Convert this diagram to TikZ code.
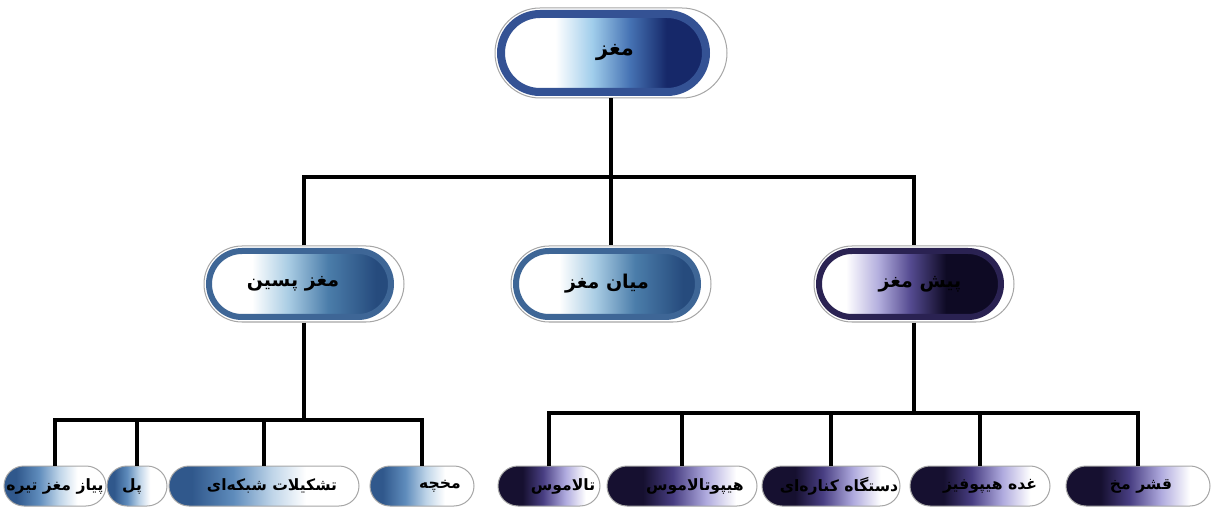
\documentclass[tikz,border=0pt]{standalone}
\usepackage{fontspec}
\newfontfamily\fa[Script=Arabic]{DejaVu Sans}
\TeXXeTstate=1
\newcommand\rtl[1]{\beginR#1\endR}

% palette: top node (blue), level-two blue nodes, forebrain (indigo), bottom rows
\definecolor{topring}{RGB}{52,82,148}
\definecolor{topl}{RGB}{160,205,235}
\definecolor{topm}{RGB}{70,115,180}
\definecolor{topd}{RGB}{22,40,105}
\definecolor{bluring}{RGB}{62,102,150}
\definecolor{blul}{RGB}{170,205,228}
\definecolor{blum}{RGB}{75,125,170}
\definecolor{blud}{RGB}{38,75,125}
\definecolor{indring}{RGB}{42,34,82}
\definecolor{indl}{RGB}{180,175,222}
\definecolor{indm}{RGB}{85,75,145}
\definecolor{indd}{RGB}{14,10,36}
\definecolor{bbd}{RGB}{48,88,140}
\definecolor{bbm}{RGB}{95,140,188}
\definecolor{bbl}{RGB}{190,212,232}
\definecolor{ibd}{RGB}{22,16,48}
\definecolor{ibm}{RGB}{72,62,130}
\definecolor{ibl}{RGB}{175,170,222}

% horizontal fades, light on the left / dark on the right (ring pills)
\pgfdeclarehorizontalshading{topfill}{100bp}{color(0bp)=(white); color(38bp)=(white); color(46bp)=(topl); color(54bp)=(topm); color(62bp)=(topd); color(100bp)=(topd)}
\pgfdeclarehorizontalshading{blufill}{100bp}{color(0bp)=(white); color(37bp)=(white); color(46bp)=(blul); color(56bp)=(blum); color(68bp)=(blud); color(100bp)=(blud)}
\pgfdeclarehorizontalshading{indfill}{100bp}{color(0bp)=(white); color(33bp)=(white); color(41bp)=(indl); color(49bp)=(indm); color(58bp)=(indd); color(100bp)=(indd)}
% dark on the left / white on the right (leaf pills)
\pgfdeclarehorizontalshading{btmblue}{100bp}{color(0bp)=(bbd); color(31bp)=(bbd); color(42bp)=(bbm); color(52bp)=(bbl); color(61bp)=(white); color(100bp)=(white)}
\pgfdeclarehorizontalshading{btmind}{100bp}{color(0bp)=(ibd); color(37bp)=(ibd); color(47bp)=(ibm); color(58bp)=(ibl); color(68bp)=(white); color(100bp)=(white)}

\tikzset{
  link/.style={draw=black, line width=1.7pt},
  pill/.style={rectangle, inner sep=0pt, fill=white, draw=black!35, line width=0.5pt, text=black},
  toppill/.style={pill, minimum width=116pt, minimum height=45pt, rounded corners=22.5pt,
    font=\fa\bfseries\fontsize{10.5}{13}\selectfont,
    path picture={\path[draw=topring, line width=4pt, shading=topfill, rounded corners=19.5pt]
      ([xshift=3pt,yshift=-3pt]path picture bounding box.north west) rectangle
      ([xshift=-10.5pt,yshift=3pt]path picture bounding box.south east);}},
  midpill/.style 2 args={pill, minimum width=100pt, minimum height=38pt, rounded corners=19pt,
    font=\fa\bfseries\fontsize{9.5}{12}\selectfont,
    path picture={\path[draw=#1, line width=3pt, shading=#2, rounded corners=16.5pt]
      ([xshift=2.5pt,yshift=-2.5pt]path picture bounding box.north west) rectangle
      ([xshift=-6.5pt,yshift=2.5pt]path picture bounding box.south east);}},
  leaf/.style 2 args={pill, minimum width=#1, minimum height=20pt, rounded corners=10pt,
    shading=#2, font=\fa\bfseries\fontsize{7.8}{10}\selectfont},
}

\begin{document}
\begin{tikzpicture}[x=0.5pt, y=-0.5pt]
\useasboundingbox (0,0) rectangle (1212,508);

% root and second level
\node[toppill] (top) at (611,53) {\kern4pt\rtl{مغز}};
\node[midpill={bluring}{blufill}] (hb) at (304,284) {\rtl{مغز پسین}\kern11pt};
\node[midpill={bluring}{blufill}] (mb) at (611,284) {\rtl{میان مغز}\kern4pt};
\node[midpill={indring}{indfill}] (fb) at (914,284) {\kern6pt\rtl{پیش مغز}};

% hindbrain parts
\node[leaf={51pt}{btmblue}] (c1) at (55,486) {\rtl{پیاز مغز تیره}};
\node[leaf={30pt}{btmblue}] (c2) at (137,486) {\rtl{پل}\kern5pt};
\node[leaf={95pt}{btmblue}] (c3) at (264,486) {\kern8pt\rtl{تشکیلات شبکه‌ای}};
\node[leaf={52pt}{btmblue}] (c4) at (422,486) {\kern18pt\rtl{مخچه}};

% forebrain parts
\node[leaf={51pt}{btmind}] (d1) at (549,486) {\kern14pt\rtl{تالاموس}};
\node[leaf={75pt}{btmind}] (d2) at (682,486) {\kern13pt\rtl{هیپوتالاموس}};
\node[leaf={69pt}{btmind}] (d3) at (831,486) {\kern8pt\rtl{دستگاه کناره‌ای}};
\node[leaf={70pt}{btmind}] (d4) at (980,486) {\kern10pt\rtl{غده هیپوفیز}};
\node[leaf={72pt}{btmind}] (d5) at (1138,486) {\kern3pt\rtl{قشر مخ}};

% junctions of the tree bars
\coordinate (jt) at (611,177);
\coordinate (jh) at (304,420);
\coordinate (jf) at (914,413);

% connectors
\draw[link] (top.south) -- (mb.north);
\draw[link] (hb.north) |- (jt) -| (fb.north);

\draw[link] (hb.south) -- (jh);
\draw[link] (c1.north) |- (jh) -| (c4.north);
\draw[link] (c2.north) -- (c2.north |- jh);
\draw[link] (c3.north) -- (c3.north |- jh);

\draw[link] (fb.south) -- (jf);
\draw[link] (d1.north) |- (jf) -| (d5.north);
\draw[link] (d2.north) -- (d2.north |- jf);
\draw[link] (d3.north) -- (d3.north |- jf);
\draw[link] (d4.north) -- (d4.north |- jf);
\end{tikzpicture}
\end{document}
